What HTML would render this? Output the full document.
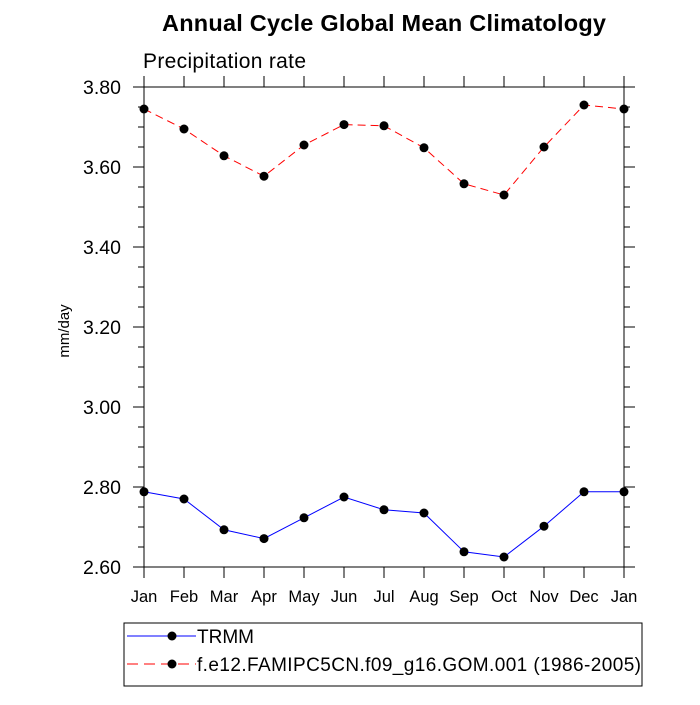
<!DOCTYPE html>
<html><head><meta charset="utf-8"><style>
body{margin:0;background:#fff}
text{font-family:"Liberation Sans",sans-serif}
</style></head><body>
<svg width="700" height="700">
<text x="384" y="31" font-size="23.5" font-weight="bold" text-anchor="middle" textLength="444">Annual Cycle Global Mean Climatology</text>
<text x="143" y="68" font-size="21" textLength="163">Precipitation rate</text>
<text transform="translate(69,331) rotate(-90)" font-size="15" text-anchor="middle">mm/day</text>
<g id="axes"></g>
<g id="series"></g>
<rect x="124" y="623" width="518" height="63" fill="none" stroke="#000" stroke-width="1"/>
<g>
<line x1="127" y1="636" x2="196" y2="636" stroke="#0000ff" stroke-width="1"/>
<circle cx="172" cy="636" r="4.5" fill="#000"/>
<text x="197" y="643" font-size="19">TRMM</text></g>
<g>
<line x1="127" y1="664" x2="196" y2="664" stroke="#ff0000" stroke-width="1" stroke-dasharray="11,6"/>
<circle cx="172" cy="664" r="4.5" fill="#000"/>
<text x="197" y="671" font-size="19" textLength="444">f.e12.FAMIPC5CN.f09_g16.GOM.001 (1986-2005)</text></g>
</svg>
<script>
const months=["Jan","Feb","Mar","Apr","May","Jun","Jul","Aug","Sep","Oct","Nov","Dec","Jan"];
const trmm=[2.788,2.770,2.693,2.671,2.723,2.775,2.743,2.735,2.638,2.625,2.702,2.788,2.788];
const model=[3.745,3.695,3.628,3.577,3.655,3.706,3.703,3.648,3.558,3.530,3.650,3.755,3.745];
const yTicks=[2.6,2.8,3.0,3.2,3.4,3.6,3.8];
const yMin=2.6,yMax=3.8;
const L=144,R=624,T=87,B=567;
const NS="http://www.w3.org/2000/svg";
const xs=i=>L+i*(R-L)/(months.length-1);
const ys=v=>B-(v-yMin)/(yMax-yMin)*(B-T);
const ax=document.getElementById('axes'),se=document.getElementById('series');
function mk(p,tag,at){const e=document.createElementNS(NS,tag);for(const k in at)e.setAttribute(k,at[k]);p.appendChild(e);return e;}
const fr=mk(ax,'rect',{x:L,y:T,width:R-L,height:B-T,fill:'none',stroke:'#000','stroke-width':1});


months.forEach((m,i)=>{
 const x=xs(i);
 mk(ax,'line',{x1:x,y1:B,x2:x,y2:B+11,stroke:'#000'});
 mk(ax,'line',{x1:x,y1:T,x2:x,y2:T-11,stroke:'#000'});
 const t=mk(ax,'text',{x:x,y:B+35,'font-size':16.5,'text-anchor':'middle'});t.textContent=m;
 
 
});
for(let v=yMin;v<=yMax+1e-9;v+=0.05){
 const y=ys(v);const major=Math.abs(Math.round(v*5)-v*5)<1e-6;
 const len=major?11:6;
 mk(ax,'line',{x1:L-len,y1:y,x2:L,y2:y,stroke:'#000'});
 mk(ax,'line',{x1:R,y1:y,x2:R+len,y2:y,stroke:'#000'});
}
yTicks.forEach(v=>{
 const t=mk(ax,'text',{x:121,y:ys(v)+7,'font-size':19.5,'text-anchor':'end'});t.textContent=v.toFixed(2);
 
 
});
function series(data,color,dash,name){
 const pl=mk(se,'polyline',{points:data.map((v,i)=>xs(i)+','+ys(v)).join(' '),fill:'none',stroke:color,'stroke-width':1,'stroke-dasharray':dash});
 
 
 data.forEach((v,i)=>{const c=mk(se,'circle',{cx:xs(i),cy:ys(v),r:4.5,fill:'#000'});
  
  });
}
series(trmm,'#0000ff','none','trmm');
series(model,'#ff0000','8,5','model');
</script>
</body></html>
